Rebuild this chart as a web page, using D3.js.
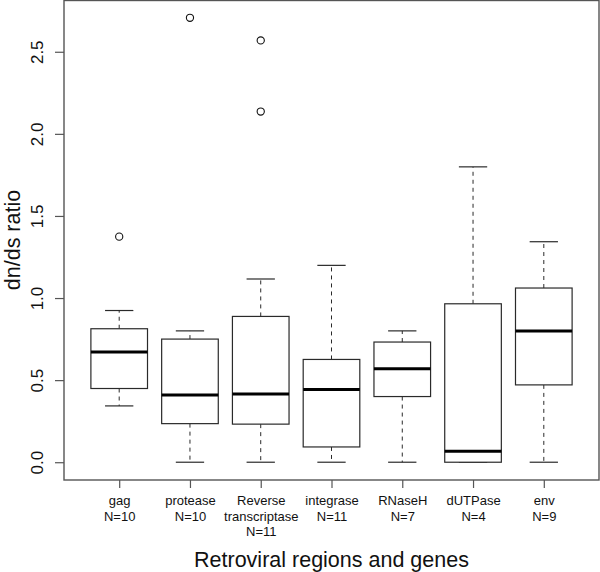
<!DOCTYPE html>
<html>
<head>
<meta charset="utf-8">
<script src="https://cdn.jsdelivr.net/npm/d3@7"></script>
<style>
  html, body { margin: 0; padding: 0; background: #fff; }
  svg { display: block; font-family: "Liberation Sans", Arial, Helvetica, sans-serif; }
</style>
</head>
<body>
<svg id="chart" width="600" height="572"></svg>
<script>
// ---- data ----
const categories = ["gag", "protease", "Reverse\ntranscriptase", "integrase", "RNaseH", "dUTPase", "env"];
const counts = [10, 10, 11, 11, 7, 4, 9];
const lowerWhisker = [0.343, 0.0, 0.0, 0.0, 0.0, 0.0, 0.0];
const q1 = [0.449, 0.235, 0.232, 0.093, 0.400, 0.0, 0.471];
const median = [0.671, 0.410, 0.416, 0.443, 0.569, 0.067, 0.800];
const q3 = [0.813, 0.750, 0.888, 0.626, 0.732, 0.965, 1.061];
const upperWhisker = [0.924, 0.800, 1.116, 1.199, 0.800, 1.799, 1.343];
const outliers = [[1.374], [2.707], [2.569, 2.136], [], [], [], []];
const yTicks = [0.0, 0.5, 1.0, 1.5, 2.0, 2.5];
const xTitle = "Retroviral regions and genes";
const yTitle = "dn/ds ratio";

// ---- layout ----
const svg = d3.select("#chart");
const plot = { left: 64, right: 599, top: 0, bottom: 480 };
const n = categories.length;
const dataMax = d3.max(outliers.flat().concat(upperWhisker));
const dataMin = 0;
const ext = 0.04 * (dataMax - dataMin);

const x = d3.scaleLinear().domain([0.5 - 0.04 * n, n + 0.5 + 0.04 * n]).range([plot.left, plot.right]);
const y = d3.scaleLinear().domain([dataMin - ext, dataMax + ext]).range([plot.bottom, plot.top]);

const boxHalf = 0.4, stapleHalf = 0.2;
const boxStroke = "#2a2a2a";

const g = svg.append("g");

categories.forEach((c, i) => {
  const cx = x(i + 1);
  const grp = g.append("g");
  // whiskers (dashed)
  grp.append("line").attr("x1", cx).attr("x2", cx).attr("y1", y(q3[i])).attr("y2", y(upperWhisker[i]))
    .attr("stroke", boxStroke).attr("stroke-width", 1).attr("stroke-dasharray", "4,4");
  if (q1[i] > lowerWhisker[i]) {
    grp.append("line").attr("x1", cx).attr("x2", cx).attr("y1", y(q1[i])).attr("y2", y(lowerWhisker[i]))
      .attr("stroke", boxStroke).attr("stroke-width", 1).attr("stroke-dasharray", "4,4");
  }
  // staples
  [upperWhisker[i], lowerWhisker[i]].forEach(v => {
    grp.append("line").attr("x1", x(i + 1 - stapleHalf)).attr("x2", x(i + 1 + stapleHalf))
      .attr("y1", y(v)).attr("y2", y(v)).attr("stroke", boxStroke).attr("stroke-width", 1.2);
  });
  // box
  grp.append("rect").attr("x", x(i + 1 - boxHalf)).attr("width", x(i + 1 + boxHalf) - x(i + 1 - boxHalf))
    .attr("y", y(q3[i])).attr("height", y(q1[i]) - y(q3[i]))
    .attr("fill", "#fff").attr("stroke", boxStroke).attr("stroke-width", 1.2);
  // median
  grp.append("line").attr("x1", x(i + 1 - boxHalf)).attr("x2", x(i + 1 + boxHalf))
    .attr("y1", y(median[i])).attr("y2", y(median[i])).attr("stroke", "#000").attr("stroke-width", 3);
  // outliers
  outliers[i].forEach(v => {
    grp.append("circle").attr("cx", cx).attr("cy", y(v)).attr("r", 3.6)
      .attr("fill", "none").attr("stroke", "#111").attr("stroke-width", 1.1);
  });
});

// frame
svg.append("rect").attr("x", plot.left).attr("y", plot.top + 0.5)
  .attr("width", plot.right - plot.left).attr("height", plot.bottom - plot.top - 0.5)
  .attr("fill", "none").attr("stroke", "#555").attr("stroke-width", 1.4);

// y axis
const yAxis = d3.axisLeft(y).tickValues(yTicks).tickFormat(d3.format(".1f")).tickSize(9).tickPadding(4);
const ya = svg.append("g").attr("transform", `translate(${plot.left},0)`).call(yAxis);
ya.select(".domain").remove();
ya.selectAll(".tick line").attr("stroke", "#555").attr("stroke-width", 1.2);
ya.selectAll(".tick text")
  .attr("transform", "rotate(-90)")
  .attr("x", 0).attr("y", -21)
  .attr("dy", 0)
  .attr("text-anchor", "middle")
  .attr("font-size", 17).attr("fill", "#111");

// x axis
const xAxis = d3.axisBottom(x).tickValues(d3.range(1, n + 1)).tickFormat("").tickSize(8);
const xa = svg.append("g").attr("transform", `translate(0,${plot.bottom})`).call(xAxis);
xa.select(".domain").remove();
xa.selectAll(".tick line").attr("stroke", "#555").attr("stroke-width", 1.2);
xa.selectAll(".tick").each(function (d, i) {
  const lines = categories[i].split("\n").concat(["N=" + counts[i]]);
  const t = d3.select(this).append("text").attr("text-anchor", "middle")
    .attr("font-size", 13).attr("fill", "#111");
  lines.forEach((l, k) => {
    t.append("tspan").attr("x", 0).attr("y", 25 + k * 15.7).text(l);
  });
});

// titles
svg.append("text").attr("x", (plot.left + plot.right) / 2).attr("y", 566.5)
  .attr("text-anchor", "middle").attr("font-size", 21.5).attr("fill", "#111").text(xTitle);
svg.append("text").attr("transform", `translate(19.5,${(plot.top + plot.bottom) / 2}) rotate(-90)`)
  .attr("text-anchor", "middle").attr("font-size", 21.5).attr("fill", "#111").text(yTitle);
</script>
</body>
</html>
